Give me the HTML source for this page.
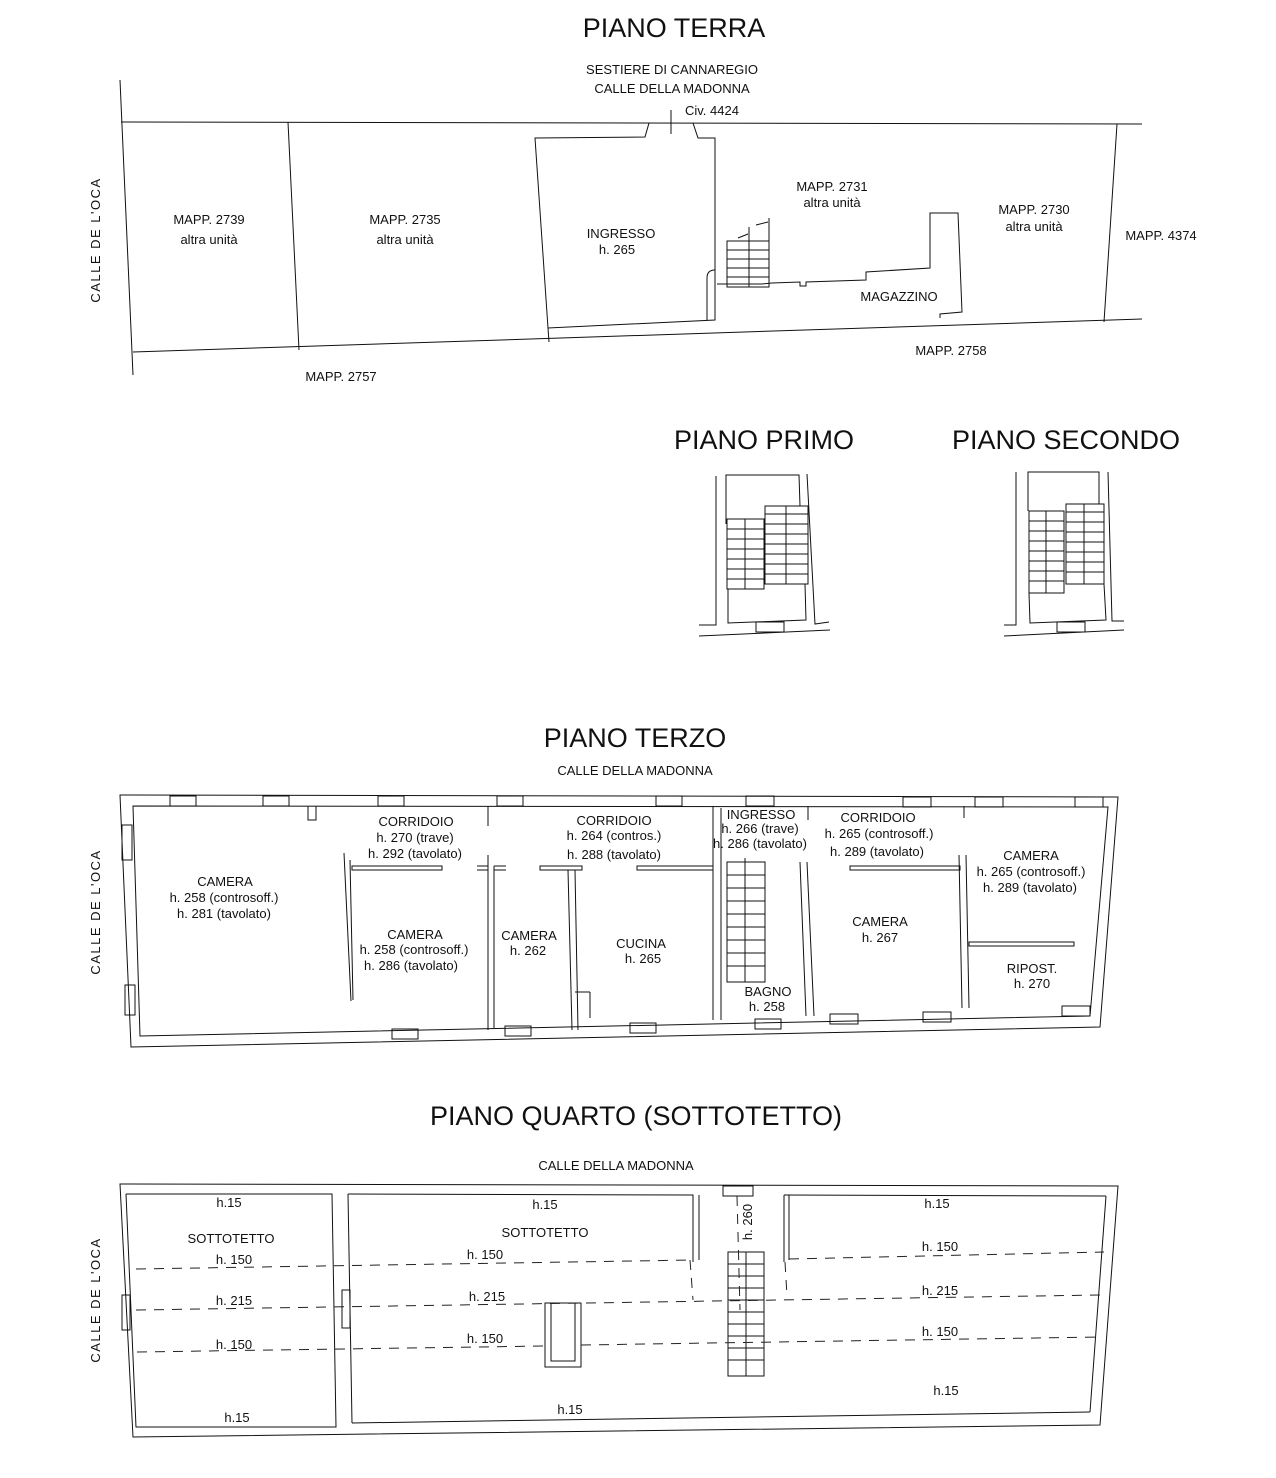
<!DOCTYPE html>
<html><head><meta charset="utf-8"><style>
html,body{margin:0;padding:0;background:#fff}
svg{display:block}
text{font-family:"Liberation Sans",sans-serif;fill:#111}
.t{font-size:13px}
.h{font-size:27px}
</style></head><body>
<svg width="1276" height="1478" viewBox="0 0 1276 1478" xmlns="http://www.w3.org/2000/svg">
<g fill="none" stroke="#111" stroke-width="1">
<!-- PIANO TERRA -->
<line x1="121" y1="122" x2="1142" y2="124"/>
<line x1="120" y1="80" x2="133" y2="375"/>
<line x1="133" y1="352" x2="1142" y2="319"/>
<line x1="288" y1="122" x2="299" y2="350"/>
<line x1="1117" y1="124" x2="1104" y2="322"/>
<line x1="671" y1="110" x2="671" y2="134"/>
<polyline points="649,123 645,137 535,138 548,328 715,320 715,138 698,138 693,123"/>
<polyline points="717,284 762,284 772,283 800,282 800,286 806,286 806,282 866,280 866,272 930,268 930,213 958,213 962,312 940,314 940,318"/>
<path d="M707,320 L707,278 Q707,270 715,270"/>
<polyline points="548,328 549,342 M582,327 582,343 M548,335 582,334 M659,323 659,339 M659,331 699,329 M699,321 699,338 M727,318 727,333 M776,317 776,332 M827,316 827,330 M860,315 860,329 M900,314 900,326 M928,313 928,326"/>
<rect x="727" y="241" width="42" height="46"/>
<line x1="727" y1="250" x2="769" y2="250"/><line x1="727" y1="259" x2="769" y2="259"/><line x1="727" y1="268" x2="769" y2="268"/><line x1="727" y1="277" x2="769" y2="277"/>
<line x1="749" y1="227" x2="749" y2="287"/><line x1="769" y1="218" x2="769" y2="241"/>
<line x1="738" y1="238" x2="748" y2="234"/><line x1="756" y1="225" x2="768" y2="222"/>
<!-- PIANO PRIMO -->
<polyline points="699,625 716,625 716,476"/>
<polyline points="807,474 815,624 829,622"/>
<line x1="699" y1="636" x2="830" y2="630"/>
<polyline points="726,524 726,475 799,475 800,506"/>
<polyline points="728,589 728,623 806,620 805,584"/>
<rect x="727" y="519" width="37" height="70"/><line x1="745" y1="519" x2="745" y2="589"/>
<line x1="727" y1="529" x2="764" y2="529"/><line x1="727" y1="539" x2="764" y2="539"/><line x1="727" y1="549" x2="764" y2="549"/><line x1="727" y1="559" x2="764" y2="559"/><line x1="727" y1="569" x2="764" y2="569"/><line x1="727" y1="579" x2="764" y2="579"/>
<rect x="765" y="506" width="43" height="78"/><line x1="786" y1="506" x2="786" y2="584"/>
<line x1="765" y1="514" x2="808" y2="514"/><line x1="765" y1="524" x2="808" y2="524"/><line x1="765" y1="534" x2="808" y2="534"/><line x1="765" y1="544" x2="808" y2="544"/><line x1="765" y1="554" x2="808" y2="554"/><line x1="765" y1="564" x2="808" y2="564"/><line x1="765" y1="574" x2="808" y2="574"/>
<rect x="756" y="622" width="28" height="10"/>
<!-- PIANO SECONDO -->
<polyline points="1004,625 1016,625 1016,472"/>
<polyline points="1108,472 1112,621 1124,621"/>
<line x1="1004" y1="636" x2="1124" y2="630"/>
<polyline points="1028,511 1028,472 1099,472 1099,504"/>
<polyline points="1029,593 1030,623 1106,620 1104,584"/>
<rect x="1029" y="511" width="35" height="82"/><line x1="1046" y1="511" x2="1046" y2="593"/>
<line x1="1029" y1="521" x2="1064" y2="521"/><line x1="1029" y1="531" x2="1064" y2="531"/><line x1="1029" y1="541" x2="1064" y2="541"/><line x1="1029" y1="551" x2="1064" y2="551"/><line x1="1029" y1="561" x2="1064" y2="561"/><line x1="1029" y1="571" x2="1064" y2="571"/><line x1="1029" y1="581" x2="1064" y2="581"/>
<rect x="1066" y="504" width="38" height="80"/><line x1="1084" y1="504" x2="1084" y2="584"/>
<line x1="1066" y1="512" x2="1104" y2="512"/><line x1="1066" y1="522" x2="1104" y2="522"/><line x1="1066" y1="532" x2="1104" y2="532"/><line x1="1066" y1="542" x2="1104" y2="542"/><line x1="1066" y1="552" x2="1104" y2="552"/><line x1="1066" y1="562" x2="1104" y2="562"/><line x1="1066" y1="572" x2="1104" y2="572"/>
<rect x="1057" y="622" width="28" height="10"/>
<!-- PIANO TERZO -->
<polygon points="120,795 1118,797 1100,1027 131,1047"/>
<polygon points="133,806 1108,807 1090,1016 140,1036"/>
<polyline points="308,806 308,820 316,820 316,806"/>
<polyline points="488,806 488,826"/>
<rect x="352" y="866" width="90" height="4"/>
<line x1="344" y1="853" x2="351" y2="1001"/><line x1="350" y1="860" x2="353" y2="1000"/>
<line x1="477" y1="866" x2="488" y2="866"/><line x1="477" y1="870" x2="488" y2="870"/>
<line x1="488" y1="855" x2="488" y2="1030"/><line x1="494" y1="866" x2="494" y2="1028"/>
<line x1="494" y1="866" x2="506" y2="866"/><line x1="494" y1="870" x2="506" y2="870"/>
<rect x="540" y="866" width="42" height="4"/>
<line x1="568" y1="870" x2="572" y2="1030"/><line x1="575" y1="870" x2="578" y2="1030"/>
<rect x="637" y="866" width="76" height="4"/>
<line x1="713" y1="806" x2="713" y2="1020"/><line x1="721" y1="808" x2="721" y2="1020"/>
<rect x="727" y="862" width="38" height="120"/><line x1="745" y1="858" x2="745" y2="982"/>
<line x1="727" y1="875" x2="765" y2="875"/><line x1="727" y1="888" x2="765" y2="888"/><line x1="727" y1="901" x2="765" y2="901"/><line x1="727" y1="914" x2="765" y2="914"/><line x1="727" y1="927" x2="765" y2="927"/><line x1="727" y1="940" x2="765" y2="940"/><line x1="727" y1="953" x2="765" y2="953"/><line x1="727" y1="966" x2="765" y2="966"/>
<line x1="800" y1="862" x2="806" y2="1016"/><line x1="807" y1="862" x2="814" y2="1016"/>
<line x1="808" y1="806" x2="808" y2="820"/><line x1="964" y1="806" x2="964" y2="818"/>
<rect x="850" y="866" width="110" height="4"/>
<line x1="959" y1="855" x2="962" y2="1008"/><line x1="966" y1="855" x2="969" y2="1008"/>
<rect x="969" y="942" width="105" height="4"/>
<line x1="575" y1="992" x2="590" y2="992"/><line x1="590" y1="992" x2="590" y2="1018"/>
<rect x="170" y="796" width="26" height="10"/><rect x="263" y="796" width="26" height="10"/><rect x="378" y="796" width="26" height="10"/><rect x="497" y="796" width="26" height="10"/><rect x="656" y="796" width="26" height="10"/><rect x="746" y="796" width="28" height="10"/><rect x="903" y="797" width="28" height="10"/><rect x="975" y="797" width="28" height="10"/><rect x="1075" y="797" width="28" height="10"/>
<rect x="122" y="825" width="10" height="35"/><rect x="125" y="985" width="10" height="30"/>
<rect x="392" y="1029" width="26" height="10"/><rect x="505" y="1026" width="26" height="10"/><rect x="630" y="1023" width="26" height="10"/><rect x="755" y="1019" width="26" height="10"/><rect x="830" y="1014" width="28" height="10"/><rect x="923" y="1012" width="28" height="10"/><rect x="1062" y="1006" width="28" height="10"/>
<!-- PIANO QUARTO -->
<polygon points="120,1184 1118,1186 1100,1425 133,1437"/>
<polyline points="126,1194 332,1194 336,1427 136,1427 126,1194"/>
<polyline points="348,1194 693,1195 693,1262"/>
<line x1="348" y1="1194" x2="352" y2="1423"/>
<line x1="352" y1="1423" x2="1090" y2="1412"/>
<line x1="1090" y1="1412" x2="1106" y2="1196"/>
<line x1="1106" y1="1196" x2="784" y2="1195"/>
<line x1="784" y1="1195" x2="784" y2="1262"/><line x1="789" y1="1195" x2="789" y2="1260"/>
<line x1="699" y1="1195" x2="699" y2="1260"/>
<rect x="723" y="1186" width="30" height="10"/>
<rect x="122" y="1295" width="8" height="35"/><rect x="342" y="1290" width="8" height="38"/>
<rect x="545" y="1303" width="36" height="64"/><rect x="551" y="1303" width="24" height="58"/>
<rect x="728" y="1252" width="36" height="124"/><line x1="746" y1="1252" x2="746" y2="1376"/>
<line x1="728" y1="1264" x2="764" y2="1264"/><line x1="728" y1="1276" x2="764" y2="1276"/><line x1="728" y1="1288" x2="764" y2="1288"/><line x1="728" y1="1300" x2="764" y2="1300"/><line x1="728" y1="1312" x2="764" y2="1312"/><line x1="728" y1="1324" x2="764" y2="1324"/><line x1="728" y1="1336" x2="764" y2="1336"/><line x1="728" y1="1348" x2="764" y2="1348"/><line x1="728" y1="1360" x2="764" y2="1360"/>
<g stroke-dasharray="10,8" stroke="#222">
<line x1="136" y1="1269" x2="693" y2="1260"/>
<line x1="789" y1="1259" x2="1104" y2="1252"/>
<line x1="136" y1="1310" x2="1100" y2="1295"/>
<line x1="137" y1="1352" x2="545" y2="1346"/>
<line x1="581" y1="1345" x2="1100" y2="1337"/>
<line x1="690" y1="1260" x2="693" y2="1300"/><line x1="785" y1="1262" x2="787" y2="1296"/>
<line x1="737" y1="1196" x2="740" y2="1310"/>
</g>
</g>
<text class="h" x="674" y="37" text-anchor="middle">PIANO TERRA</text>
<text class="t" x="672" y="74" text-anchor="middle">SESTIERE DI CANNAREGIO</text>
<text class="t" x="672" y="93" text-anchor="middle">CALLE DELLA MADONNA</text>
<text class="t" x="685" y="115">Civ. 4424</text>
<text class="t" x="209" y="224" text-anchor="middle">MAPP. 2739</text>
<text class="t" x="209" y="244" text-anchor="middle">altra unità</text>
<text class="t" x="405" y="224" text-anchor="middle">MAPP. 2735</text>
<text class="t" x="405" y="244" text-anchor="middle">altra unità</text>
<text class="t" x="621" y="238" text-anchor="middle">INGRESSO</text>
<text class="t" x="617" y="254" text-anchor="middle">h. 265</text>
<text class="t" x="832" y="191" text-anchor="middle">MAPP. 2731</text>
<text class="t" x="832" y="207" text-anchor="middle">altra unità</text>
<text class="t" x="1034" y="214" text-anchor="middle">MAPP. 2730</text>
<text class="t" x="1034" y="231" text-anchor="middle">altra unità</text>
<text class="t" x="1161" y="240" text-anchor="middle">MAPP. 4374</text>
<text class="t" x="899" y="301" text-anchor="middle">MAGAZZINO</text>
<text class="t" x="951" y="355" text-anchor="middle">MAPP. 2758</text>
<text class="t" x="341" y="381" text-anchor="middle">MAPP. 2757</text>
<text class="t" transform="translate(100,240) rotate(-90)" text-anchor="middle" letter-spacing="1.5">CALLE DE L'OCA</text>
<text class="h" x="764" y="449" text-anchor="middle">PIANO PRIMO</text>
<text class="h" x="1066" y="449" text-anchor="middle">PIANO SECONDO</text>
<text class="h" x="635" y="747" text-anchor="middle">PIANO TERZO</text>
<text class="t" x="635" y="775" text-anchor="middle">CALLE DELLA MADONNA</text>
<text class="t" transform="translate(100,912) rotate(-90)" text-anchor="middle" letter-spacing="1.5">CALLE DE L'OCA</text>
<g class="t" text-anchor="middle">
<text x="225" y="886">CAMERA</text><text x="224" y="902">h. 258 (controsoff.)</text><text x="224" y="918">h. 281 (tavolato)</text>
<text x="416" y="826">CORRIDOIO</text><text x="415" y="842">h. 270 (trave)</text><text x="415" y="858">h. 292 (tavolato)</text>
<text x="415" y="939">CAMERA</text><text x="414" y="954">h. 258 (controsoff.)</text><text x="411" y="970">h. 286 (tavolato)</text>
<text x="529" y="940">CAMERA</text><text x="528" y="955">h. 262</text>
<text x="614" y="825">CORRIDOIO</text><text x="614" y="840">h. 264 (contros.)</text><text x="614" y="859">h. 288 (tavolato)</text>
<text x="641" y="948">CUCINA</text><text x="643" y="963">h. 265</text>
<text x="761" y="819">INGRESSO</text><text x="760" y="833">h. 266 (trave)</text><text x="760" y="848">h. 286 (tavolato)</text>
<text x="878" y="822">CORRIDOIO</text><text x="879" y="838">h. 265 (controsoff.)</text><text x="877" y="856">h. 289 (tavolato)</text>
<text x="1031" y="860">CAMERA</text><text x="1031" y="876">h. 265 (controsoff.)</text><text x="1030" y="892">h. 289 (tavolato)</text>
<text x="880" y="926">CAMERA</text><text x="880" y="942">h. 267</text>
<text x="1032" y="973">RIPOST.</text><text x="1032" y="988">h. 270</text>
<text x="768" y="996">BAGNO</text><text x="767" y="1011">h. 258</text>
</g>
<text class="h" x="636" y="1125" text-anchor="middle">PIANO QUARTO (SOTTOTETTO)</text>
<text class="t" x="616" y="1170" text-anchor="middle">CALLE DELLA MADONNA</text>
<text class="t" transform="translate(100,1300) rotate(-90)" text-anchor="middle" letter-spacing="1.5">CALLE DE L'OCA</text>
<g class="t" text-anchor="middle">
<text x="229" y="1207">h.15</text><text x="545" y="1209">h.15</text><text x="937" y="1208">h.15</text>
<text x="231" y="1243">SOTTOTETTO</text><text x="545" y="1237">SOTTOTETTO</text>
<text x="234" y="1264">h. 150</text><text x="485" y="1259">h. 150</text><text x="940" y="1251">h. 150</text>
<text x="234" y="1305">h. 215</text><text x="487" y="1301">h. 215</text><text x="940" y="1295">h. 215</text>
<text x="234" y="1349">h. 150</text><text x="485" y="1343">h. 150</text><text x="940" y="1336">h. 150</text>
<text x="237" y="1422">h.15</text><text x="570" y="1414">h.15</text><text x="946" y="1395">h.15</text>
<text transform="translate(752,1222) rotate(-90)">h. 260</text>
</g>
</svg>
</body></html>
